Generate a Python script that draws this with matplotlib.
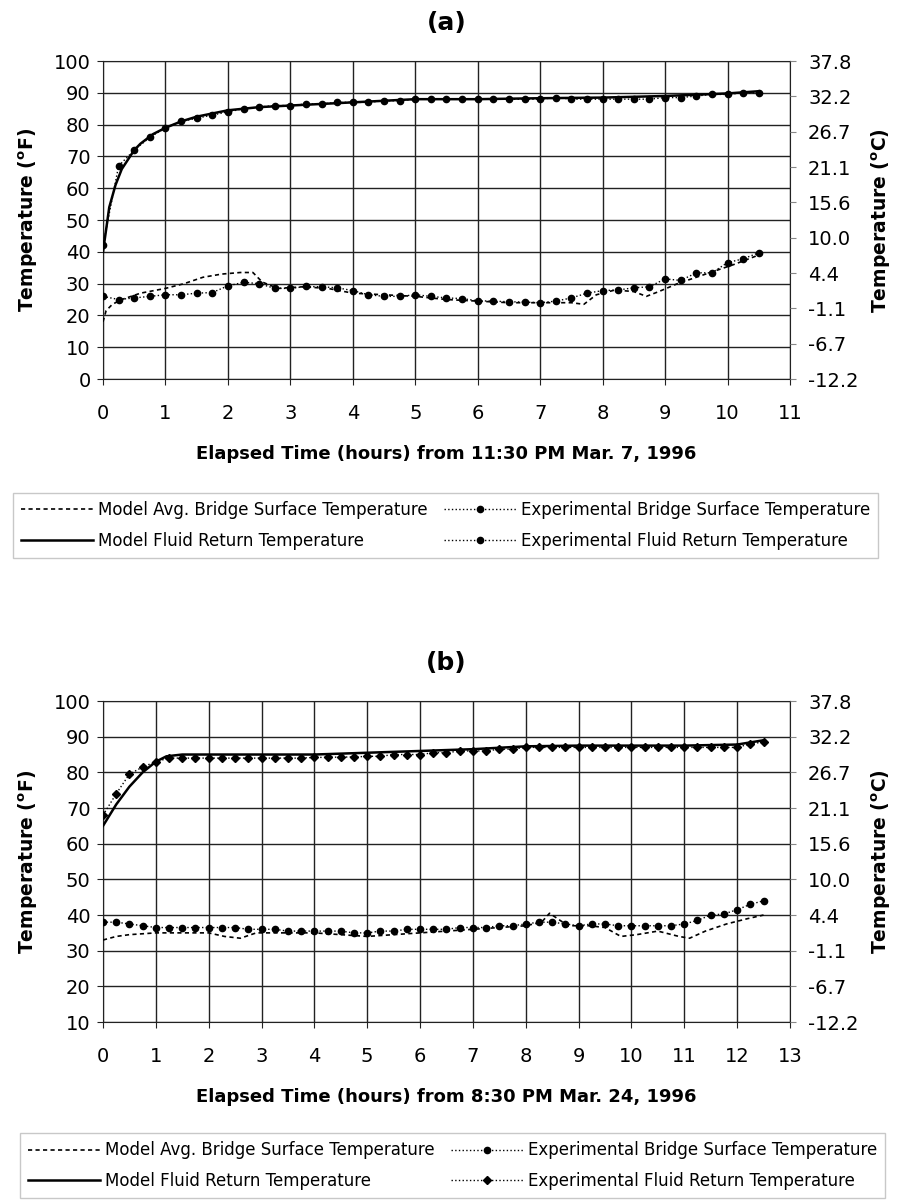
import numpy as np
import matplotlib
matplotlib.use("Agg")
import matplotlib.pyplot as plt

plt.rcParams['font.family'] = ['DejaVu Sans']

# ---------------- data, panel (a): 11:30 PM Mar. 7, 1996 ----------------
t_exp_a = np.arange(0, 10.51, 0.25)
exp_fluid_a = [42, 67, 72, 76, 79, 81, 82, 83, 84, 85, 85.5, 86, 86, 86.5, 86.5,
               87, 87, 87, 87.5, 87.5, 88, 88, 88, 88, 88, 88, 88, 88, 88, 88.5,
               88, 88, 88, 88, 88, 88, 88.5, 88.5, 89, 89.5, 89.5, 90, 90]
exp_surf_a = [26, 25, 25.5, 26, 26.5, 26.5, 27, 27.2, 29.3, 30.4, 30, 28.5, 28.5,
              29.1, 29, 28.7, 27.8, 26.5, 26, 26, 26.5, 26, 25.5, 25.3, 24.6, 24.5,
              24.3, 24.2, 24, 24.5, 25.5, 27, 27.8, 28, 28.7, 29, 31.5, 31, 33.4,
              33.4, 36.6, 37.8, 39.7]
t_mod_fluid_a = [0, 0.05, 0.1, 0.2, 0.3, 0.4, 0.5, 0.6, 0.8, 1.0, 1.25, 1.5, 2, 2.5,
                 3, 4, 5, 6, 7, 8, 9, 10, 10.5]
mod_fluid_a = [40, 47, 54, 61, 66, 69, 72, 74, 77, 79, 81, 82.5, 84.5, 85.5,
               86, 87, 88, 88, 88.3, 88.5, 89, 89.8, 90.5]
t_mod_surf_a = [0, 0.05, 0.15, 0.3, 0.6, 1.0, 1.3, 1.6, 1.9, 2.2, 2.4, 2.55, 2.8, 3.2,
                3.6, 4.0, 4.5, 5.0, 5.5, 6.0, 6.5, 7.0, 7.5, 7.7, 7.9, 8.2, 8.5, 8.7,
                8.9, 9.2, 9.5, 9.8, 10.1, 10.5]
mod_surf_a = [18, 21.5, 23.5, 25, 27, 28.5, 30, 32, 33, 33.5, 33.5, 30.5, 28.5, 29,
              28.5, 27, 26.5, 26, 25, 24.5, 24, 24, 24, 23.5, 26.5, 28, 27.5, 26,
              27.5, 30, 32, 34, 36, 39]

# ---------------- data, panel (b): 8:30 PM Mar. 24, 1996 ----------------
t_exp_b = np.arange(0, 12.51, 0.25)
exp_fluid_b = [68, 74, 79.5, 81.5, 83, 84, 84, 84, 84, 84, 84, 84, 84, 84, 84, 84,
               84.2, 84.2, 84.3, 84.3, 84.5, 84.5, 85, 85, 85, 85.5, 85.5, 86, 86,
               86, 86.5, 86.5, 87, 87, 87, 87, 87, 87, 87, 87, 87, 87, 87, 87, 87,
               87, 87, 87, 87, 88, 88.5]
exp_surf_b = [38, 38, 37.5, 37, 36.5, 36.5, 36.5, 36.5, 36.5, 36.5, 36.5, 36, 36, 36,
              35.5, 35.5, 35.5, 35.5, 35.5, 35, 35, 35.5, 35.5, 36, 36, 36, 36, 36.5,
              36.5, 36.5, 37, 37, 37.5, 38, 38, 37.5, 37, 37.5, 37.5, 37, 37, 37, 37,
              37, 37.5, 38.5, 40, 40.3, 41.5, 43, 44]
t_mod_fluid_b = [0, 0.25, 0.5, 0.75, 1.0, 1.2, 1.5, 2, 3, 4, 5, 6, 7, 8, 9, 10, 11,
                 12, 12.5]
mod_fluid_b = [65, 71, 76, 80, 83, 84.5, 85, 85, 85, 85, 85.5, 86, 86.5, 87.3, 87.5,
               87.5, 87.5, 87.8, 89]
t_mod_surf_b = [0, 0.25, 0.5, 1, 1.5, 2, 2.3, 2.6, 2.9, 3.5, 4, 4.5, 5, 5.5, 6, 6.5,
                7, 7.5, 8, 8.3, 8.45, 8.6, 8.8, 9.2, 9.5, 9.8, 10.1, 10.5, 10.9, 11.1,
                11.4, 11.8, 12.2, 12.5]
mod_surf_b = [33, 34, 34.5, 35, 35, 35, 34, 33.5, 35, 35, 35, 34.5, 34, 34.5, 35,
              35.5, 36, 36.5, 37, 38, 40.5, 39, 37, 37, 36.5, 34, 34.5, 35.5, 34,
              33.5, 35.5, 37.5, 39, 40]

c_labels = ['-12.2', '-6.7', '-1.1', '4.4', '10.0', '15.6', '21.1', '26.7', '32.2', '37.8']
labels = ['Model Avg. Bridge Surface Temperature',
          'Model Fluid Return Temperature',
          'Experimental Bridge Surface Temperature',
          'Experimental Fluid Return Temperature']

fig = plt.figure(figsize=(8.98, 12.01), dpi=100)


def panel(rect, title, xmax, ymin, xlabel, ts, surf, tf, fluid, te, esurf, efluid,
          fluid_marker, leg_anchor):
    ax = fig.add_axes(rect)
    h1, = ax.plot(ts, surf, color='black', lw=1.2, dashes=(2.5, 2), zorder=3)
    h2, = ax.plot(tf, fluid, color='black', lw=1.8, zorder=3)
    h3, = ax.plot(te, esurf, color='black', lw=1, ls=':', marker='o', ms=4.5, zorder=4)
    h4, = ax.plot(te, efluid, color='black', lw=1, ls=':', marker=fluid_marker,
                  ms=4.5, zorder=4)
    ax.set_xlim(0, xmax)
    ax.set_ylim(ymin, 100)
    ax.set_xticks(range(0, xmax + 1))
    ax.set_yticks(range(ymin, 101, 10))
    ax.grid(True, color='#222222', lw=1)
    for s in ax.spines.values():
        s.set_color('#222222')
    ax.tick_params(labelsize=14, length=4, color='#222222', pad=5)
    ax.tick_params(axis='x', pad=14)
    ax.set_title(title, fontsize=18, fontweight='bold', pad=22)
    ax.set_xlabel(xlabel, fontsize=13, fontweight='bold', labelpad=16)
    ax.set_ylabel(r'Temperature ($\mathregular{^o}$F)', fontsize=13.5,
                  fontweight='bold', labelpad=10)
    axr = ax.twinx()
    axr.set_ylim(-12.2, 37.8)
    axr.set_yticks(np.linspace(-12.2, 37.8, 10))
    axr.set_yticklabels(c_labels)
    axr.tick_params(labelsize=14, length=4, color='#888888', pad=9)
    axr.set_ylabel(r'Temperature ($\mathregular{^o}$C)', fontsize=13.5,
                   fontweight='bold', labelpad=8)
    for s in axr.spines.values():
        s.set_visible(False)
    leg = fig.legend([h1, h2, h3, h4], labels, ncol=2, loc='upper left',
                     bbox_to_anchor=leg_anchor, fontsize=12, handlelength=4.3,
                     columnspacing=1.0, fancybox=False, edgecolor='#bbbbbb',
                     borderpad=0.5, labelspacing=0.75, handletextpad=0.3,
                     borderaxespad=0)
    leg.get_frame().set_linewidth(1)


panel([0.1147, 0.6844, 0.765, 0.2648], '(a)', 11, 0,
      'Elapsed Time (hours) from 11:30 PM Mar. 7, 1996',
      t_mod_surf_a, mod_surf_a, t_mod_fluid_a, mod_fluid_a,
      t_exp_a, exp_surf_a, exp_fluid_a, 'o', (0.014, 1 - 493 / 1201))

panel([0.1147, 0.1490, 0.765, 0.2673], '(b)', 13, 10,
      'Elapsed Time (hours) from 8:30 PM Mar. 24, 1996',
      t_mod_surf_b, mod_surf_b, t_mod_fluid_b, mod_fluid_b,
      t_exp_b, exp_surf_b, exp_fluid_b, 'D', (0.022, 1 - 1133 / 1201))

fig.savefig('out.png', dpi=100)
